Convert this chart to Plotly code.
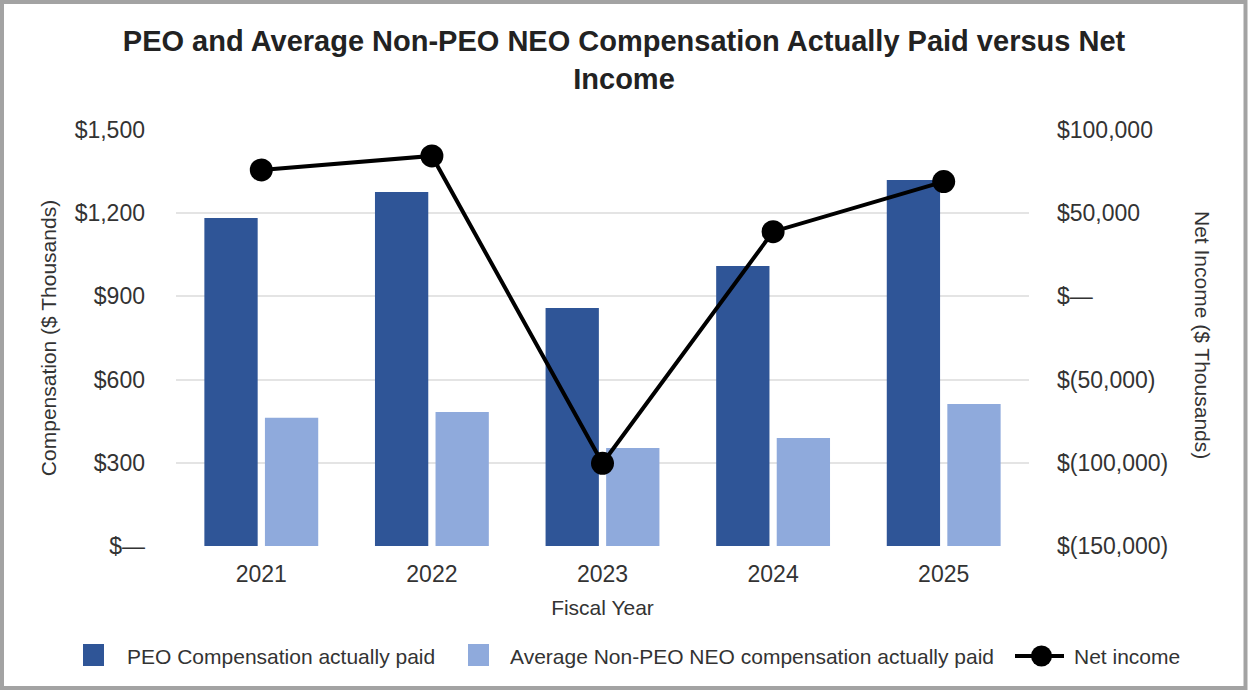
import plotly.graph_objects as go

# ---------------- data ----------------
years = ["2021", "2022", "2023", "2024", "2025"]
peo_cap = [1183, 1276, 858, 1010, 1320]          # $ thousands
neo_cap = [462, 483, 353, 389, 512]              # $ thousands
net_income = [76000, 84400, -100300, 38900, 69000]  # $ thousands

left_tickvals = [0, 300, 600, 900, 1200, 1500]
left_ticktext = ["$—", "$300", "$600", "$900", "$1,200", "$1,500"]
right_tickvals = [-150000, -100000, -50000, 0, 50000, 100000]
right_ticktext = ["$(150,000)", "$(100,000)", "$(50,000)", "$—", "$50,000", "$100,000"]

series_names = ["PEO Compensation actually paid",
                "Average Non-PEO NEO compensation actually paid",
                "Net income"]

# ---------------- style ----------------
FONT = "Liberation Sans, Arial, sans-serif"
DARK = "#2F5597"
LIGHT = "#8FAADC"
TXT = "#333333"

W, H = 1248, 690
L, R, T, B = 176, 1029, 130, 546
PW, PH = R - L, B - T


def px(x):
    return (x - L) / PW


def py(y):
    return (B - y) / PH


fig = go.Figure()
fig.add_trace(go.Bar(x=years, y=peo_cap, name=series_names[0],
                     marker=dict(color=DARK, line=dict(width=0))))
fig.add_trace(go.Bar(x=years, y=neo_cap, name=series_names[1],
                     marker=dict(color=LIGHT, line=dict(width=0))))
fig.add_trace(go.Scatter(x=years, y=net_income, name=series_names[2], yaxis="y2",
                         mode="lines+markers",
                         line=dict(color="black", width=4),
                         marker=dict(color="black", size=23),
                         cliponaxis=False))

shapes = [
    # outer frame
    dict(type="rect", xref="paper", yref="paper",
         x0=px(2), x1=px(1245.5), y0=py(2), y1=py(688),
         line=dict(color="#A3A3A3", width=4), fillcolor="rgba(0,0,0,0)", layer="above"),
    # legend swatches
    dict(type="rect", xref="paper", yref="paper",
         x0=px(83), x1=px(104), y0=py(666), y1=py(644),
         line=dict(width=0), fillcolor=DARK),
    dict(type="rect", xref="paper", yref="paper",
         x0=px(468), x1=px(489), y0=py(666), y1=py(644),
         line=dict(width=0), fillcolor=LIGHT),
    dict(type="line", xref="paper", yref="paper",
         x0=px(1015), x1=px(1064), y0=py(656), y1=py(656),
         line=dict(color="black", width=4)),
    dict(type="circle", xref="paper", yref="paper",
         x0=px(1031), x1=px(1052), y0=py(666.5), y1=py(645.5),
         line=dict(width=0), fillcolor="black"),
]

annotations = [
    dict(text=series_names[0], xref="paper", yref="paper", x=px(125), y=py(656),
         xanchor="left", yanchor="middle", showarrow=False,
         font=dict(family=FONT, size=21, color=TXT)),
    dict(text=series_names[1], xref="paper", yref="paper", x=px(508), y=py(656),
         xanchor="left", yanchor="middle", showarrow=False,
         font=dict(family=FONT, size=21, color=TXT)),
    dict(text=series_names[2], xref="paper", yref="paper", x=px(1072), y=py(656),
         xanchor="left", yanchor="middle", showarrow=False,
         font=dict(family=FONT, size=21, color=TXT)),
    # right axis title (reads top-to-bottom)
    dict(text="Net Income ($ Thousands)", xref="paper", yref="paper",
         x=px(1203), y=py(335), xanchor="center", yanchor="middle",
         textangle=90, showarrow=False,
         font=dict(family=FONT, size=21, color=TXT)),
]

fig.update_layout(
    width=W, height=H,
    margin=dict(l=L, r=W - R, t=T, b=H - B),
    paper_bgcolor="white", plot_bgcolor="white",
    font=dict(family=FONT, color=TXT),
    showlegend=False,
    barmode="group", bargap=0.29, bargroupgap=0.12,
    title=dict(text="<b>PEO and Average Non-PEO NEO Compensation Actually Paid versus Net<br>Income</b>",
               x=0.5, xref="container", xanchor="center",
               y=1 - 51 / H, yref="container", yanchor="middle",
               font=dict(family=FONT, size=29, color="#222222")),
    xaxis=dict(type="category", showgrid=False, showline=False, zeroline=False,
               ticks="", ticklabelstandoff=12,
               tickfont=dict(family=FONT, size=23, color=TXT),
               title=dict(text="Fiscal Year", standoff=14,
                          font=dict(family=FONT, size=21, color=TXT))),
    yaxis=dict(range=[0, 1500], tickvals=left_tickvals, ticktext=left_ticktext,
               showgrid=True, gridcolor="#E4E4E4", gridwidth=2,
               zeroline=False, showline=False, ticks="", ticklabelstandoff=30,
               tickfont=dict(family=FONT, size=23, color=TXT),
               title=dict(text="Compensation ($ Thousands)", standoff=12,
                          font=dict(family=FONT, size=21, color=TXT))),
    yaxis2=dict(range=[-150000, 100000], tickvals=right_tickvals, ticktext=right_ticktext,
                overlaying="y", side="right",
                showgrid=False, zeroline=False, showline=False, ticks="",
                ticklabelstandoff=27,
                tickfont=dict(family=FONT, size=23, color=TXT)),
    shapes=shapes,
    annotations=annotations,
)

fig.write_html("out.html")
